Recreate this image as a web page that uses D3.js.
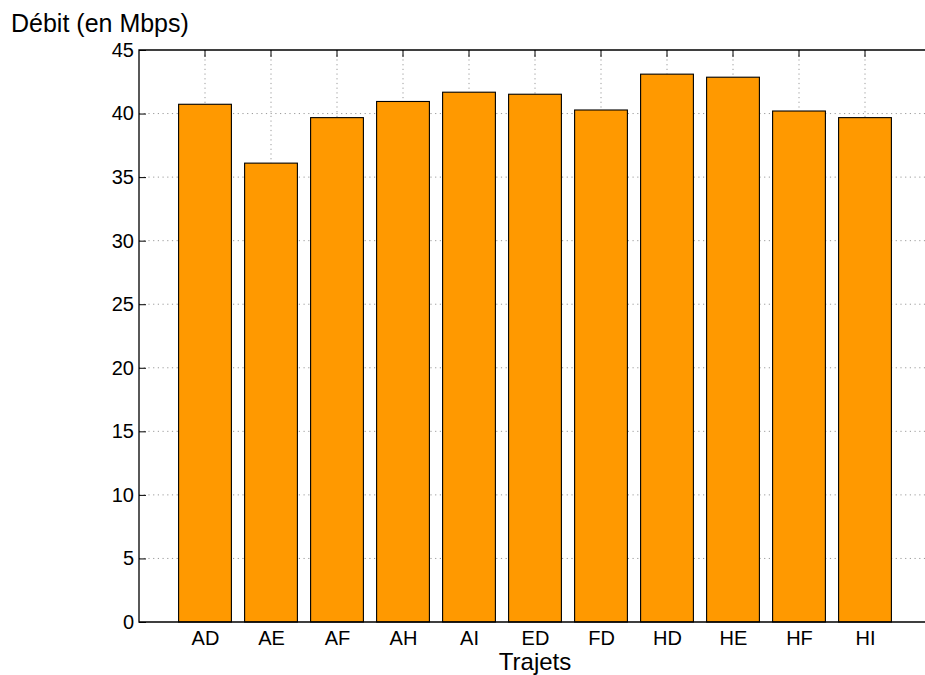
<!DOCTYPE html>
<html>
<head>
<meta charset="utf-8">
<script src="https://cdn.jsdelivr.net/npm/d3@7"></script>
<style>
  html, body { margin: 0; padding: 0; background: #fff; }
  text { font-family: "Liberation Sans", Arial, sans-serif; fill: #000; }
</style>
</head>
<body>
<script>
(function () {
  'use strict';

  var trajets = ['AD', 'AE', 'AF', 'AH', 'AI', 'ED', 'FD', 'HD', 'HE', 'HF', 'HI'];
  var debits = [40.73, 36.1, 39.68, 40.95, 41.68, 41.52, 40.28, 43.1, 42.86, 40.2, 39.68];
  var yTicks = [0, 5, 10, 15, 20, 25, 30, 35, 40, 45];

  var width = 925,
    height = 675,
    left = 139,
    top = 50,
    bottom = 622,
    right = 931;

  var svgEl = d3.select('body')
    .append('svg')
    .attr('width', width)
    .attr('height', height);

  // positions 1..11 on a 0..12 axis, like matlab's bar()
  var x = d3.scaleLinear().domain([0, trajets.length + 1]).range([left, right]);
  var y = d3.scaleLinear().domain([0, 45]).range([bottom, top]);
  var barW = (x(1) - x(0)) * 0.8;

  var grid = svgEl.append('g')
    .attr('stroke', '#9a9a9a')
    .attr('stroke-width', 1)
    .attr('stroke-dasharray', '1.2,3.5');

  grid.selectAll('line.h')
    .data(yTicks.slice(1, -1))
    .enter()
    .append('line')
    .attr('x1', left)
    .attr('x2', right)
    .attr('y1', function (d) { return y(d); })
    .attr('y2', function (d) { return y(d); });

  grid.selectAll('line.v')
    .data(trajets)
    .enter()
    .append('line')
    .attr('x1', function (d, i) { return x(i + 1); })
    .attr('x2', function (d, i) { return x(i + 1); })
    .attr('y1', top)
    .attr('y2', bottom);

  svgEl.selectAll('rect.bar')
    .data(debits)
    .enter()
    .append('rect')
    .attr('class', 'bar')
    .attr('x', function (d, i) { return x(i + 1) - barW / 2; })
    .attr('y', function (d) { return y(d); })
    .attr('width', barW)
    .attr('height', function (d) { return y(0) - y(d); })
    .attr('fill', '#ff9900')
    .attr('stroke', '#000')
    .attr('stroke-width', 1.1);

  var yAxis = d3.axisLeft(y)
    .tickValues(yTicks)
    .tickSize(-7)
    .tickPadding(5);

  var yAxisG = svgEl.append('g')
    .attr('transform', 'translate(' + left + ',0)')
    .call(yAxis);
  yAxisG.select('.domain').remove();
  yAxisG.selectAll('text')
    .attr('font-size', 20)
    .attr('font-family', '"Liberation Sans", Arial, sans-serif');

  var xAxis = d3.axisBottom(x)
    .tickValues(d3.range(1, trajets.length + 1))
    .tickFormat(function (d) { return trajets[d - 1]; })
    .tickSize(0)
    .tickPadding(9);

  var xAxisG = svgEl.append('g')
    .attr('transform', 'translate(0,' + bottom + ')')
    .call(xAxis);
  xAxisG.select('.domain').remove();
  xAxisG.selectAll('text')
    .attr('font-size', 20)
    .attr('font-family', '"Liberation Sans", Arial, sans-serif');

  // top ticks at each category
  svgEl.append('g')
    .selectAll('line')
    .data(trajets)
    .enter()
    .append('line')
    .attr('x1', function (d, i) { return x(i + 1); })
    .attr('x2', function (d, i) { return x(i + 1); })
    .attr('y1', top)
    .attr('y2', top + 7)
    .attr('stroke', '#000');

  // axis box (left, top, bottom)
  svgEl.append('path')
    .attr('d', 'M' + right + ',' + top + 'H' + left + 'V' + bottom + 'H' + right)
    .attr('fill', 'none')
    .attr('stroke', '#000')
    .attr('stroke-width', 1.3);

  svgEl.append('text')
    .attr('x', x(6))
    .attr('y', 670)
    .attr('text-anchor', 'middle')
    .attr('font-size', 24)
    .text('Trajets');

  svgEl.append('text')
    .attr('x', 11)
    .attr('y', 32)
    .attr('font-size', 25)
    .text('Débit (en Mbps)');
}());
</script>
</body>
</html>
